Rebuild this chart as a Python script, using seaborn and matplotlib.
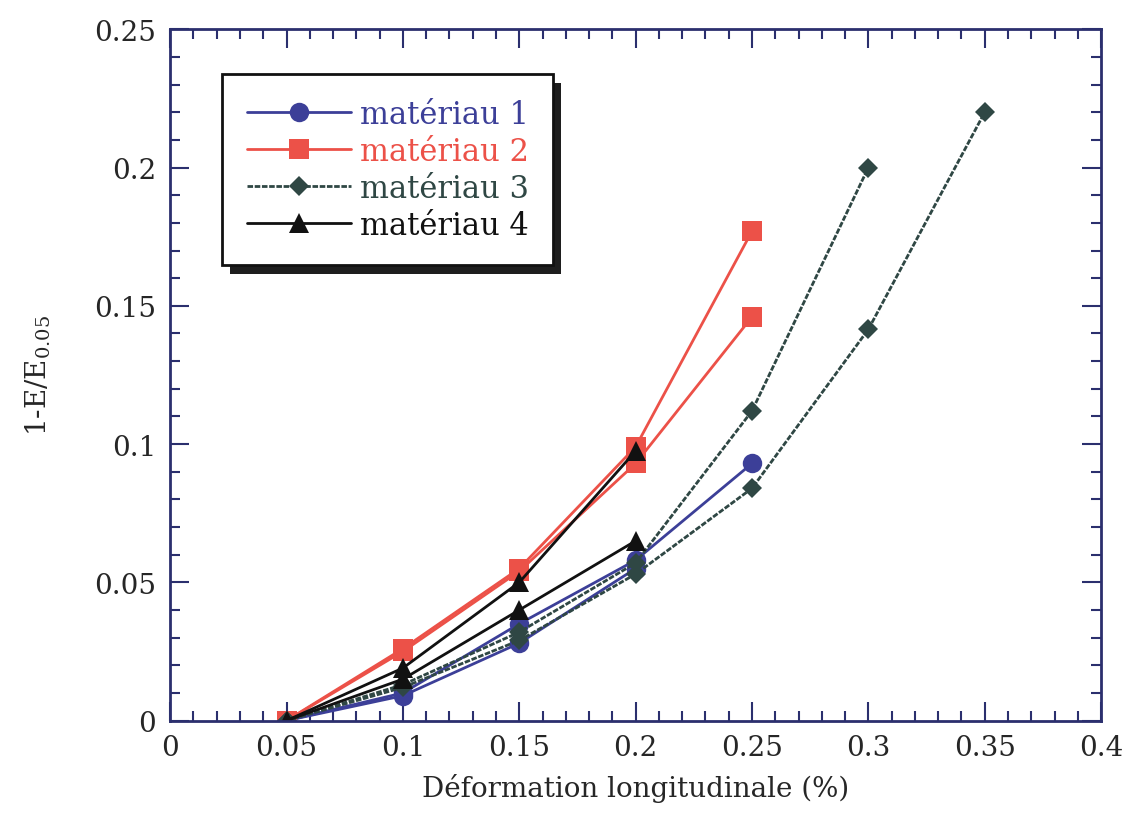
import matplotlib
matplotlib.use("Agg")
import matplotlib.pyplot as plt
from matplotlib.patches import Rectangle
from matplotlib.ticker import MultipleLocator, FuncFormatter
import seaborn as sns
import pandas as pd

# Données (plusieurs éprouvettes par matériau)
mat1_a_x = [0.05, 0.10, 0.15, 0.20, 0.25]
mat1_a_y = [0.0, 0.010, 0.035, 0.058, 0.093]
mat1_b_x = [0.05, 0.10, 0.15, 0.20]
mat1_b_y = [0.0, 0.009, 0.028, 0.055]

mat2_a_x = [0.05, 0.10, 0.15, 0.20, 0.25]
mat2_a_y = [0.0, 0.026, 0.055, 0.099, 0.177]
mat2_b_x = [0.05, 0.10, 0.15, 0.20, 0.25]
mat2_b_y = [0.0, 0.025, 0.054, 0.093, 0.146]

mat3_a_x = [0.05, 0.10, 0.15, 0.20, 0.25, 0.30]
mat3_a_y = [0.0, 0.013, 0.032, 0.057, 0.112, 0.200]
mat3_b_x = [0.05, 0.10, 0.15, 0.20, 0.25, 0.30, 0.35]
mat3_b_y = [0.0, 0.012, 0.029, 0.053, 0.084, 0.1415, 0.220]

mat4_a_x = [0.05, 0.10, 0.15, 0.20]
mat4_a_y = [0.0, 0.019, 0.050, 0.0975]
mat4_b_x = [0.05, 0.10, 0.15, 0.20]
mat4_b_y = [0.0, 0.015, 0.040, 0.065]

noms = ['matériau 1', 'matériau 2', 'matériau 3', 'matériau 4']
courbes = [
    (noms[0], 'a', mat1_a_x, mat1_a_y), (noms[0], 'b', mat1_b_x, mat1_b_y),
    (noms[1], 'a', mat2_a_x, mat2_a_y), (noms[1], 'b', mat2_b_x, mat2_b_y),
    (noms[2], 'a', mat3_a_x, mat3_a_y), (noms[2], 'b', mat3_b_x, mat3_b_y),
    (noms[3], 'a', mat4_a_x, mat4_a_y), (noms[3], 'b', mat4_b_x, mat4_b_y),
]

lignes = []
for mat, c, xs, ys in courbes:
    for x, y in zip(xs, ys):
        lignes.append({'materiau': mat, 'courbe': mat + c, 'x': x, 'y': y})
df = pd.DataFrame(lignes)

couleurs = {noms[0]: '#3c3f98', noms[1]: '#ec5148', noms[2]: '#2f4744', noms[3]: '#111111'}
marqueurs = {noms[0]: 'o', noms[1]: 's', noms[2]: 'D', noms[3]: '^'}
tirets = {noms[0]: '', noms[1]: '', noms[2]: (2.0, 0.6), noms[3]: ''}
couleur_cadre = '#2b2f6e'

sns.set_style('white')
plt.rcParams['font.family'] = ['DejaVu Serif']
plt.rcParams['mathtext.fontset'] = 'dejavuserif'

fig = plt.figure(figsize=(11.27, 8.2), dpi=100)
ax = fig.add_axes([0.151, 0.120, 0.826, 0.843])

sns.lineplot(data=df, x='x', y='y', hue='materiau', style='materiau',
             units='courbe', estimator=None, sort=False,
             palette=couleurs, markers=marqueurs, dashes=tirets,
             linewidth=2.0, markersize=14, markeredgewidth=0, ax=ax)

# diamants un peu plus petits
for ln in ax.get_lines():
    if ln.get_marker() == 'D':
        ln.set_markersize(10)

ax.set_xlim(0, 0.4)
ax.set_ylim(0, 0.25)
fmt = FuncFormatter(lambda v, p: f'{round(v, 3):g}')
ax.xaxis.set_major_locator(MultipleLocator(0.05))
ax.xaxis.set_minor_locator(MultipleLocator(0.01))
ax.yaxis.set_major_locator(MultipleLocator(0.05))
ax.yaxis.set_minor_locator(MultipleLocator(0.01))
ax.xaxis.set_major_formatter(fmt)
ax.yaxis.set_major_formatter(fmt)
ax.tick_params(which='both', direction='in', top=True, right=True,
               bottom=True, left=True,
               color=couleur_cadre, width=1.5, labelsize=20, pad=10)
ax.tick_params(which='major', length=14)
ax.tick_params(which='minor', length=7)
for sp in ax.spines.values():
    sp.set_color(couleur_cadre)
    sp.set_linewidth(2)

ax.set_xlabel('Déformation longitudinale (%)', fontsize=20, labelpad=8)
ax.set_ylabel('1-E/E$_{0.05}$', fontsize=20, labelpad=30)

sns.move_legend(ax, 'upper left', bbox_to_anchor=(0.056, 0.935),
                borderaxespad=0, title=None, frameon=True, fontsize=22,
                handlelength=3.4, handletextpad=0.3, labelspacing=0.2,
                borderpad=0.8, fancybox=False, edgecolor='#111111', framealpha=1)
leg = ax.get_legend()
leg.get_frame().set_linewidth(2)
for txt, nom in zip(leg.texts, noms):
    txt.set_color(couleurs[nom])
for h in leg.legend_handles:
    h.set_markeredgewidth(0)
    if h.get_marker() == 'D':
        h.set_markersize(10)

# ombre du cadre de légende
fig.canvas.draw()
bb = leg.get_window_extent().transformed(fig.transFigure.inverted())
dx, dy = 8 / 1127, 9 / 820
ombre = Rectangle((bb.x0 + dx, bb.y0 - dy), bb.width, bb.height,
                  transform=fig.transFigure, facecolor='#1e1e1e',
                  edgecolor='none', zorder=4)
ax.add_artist(ombre)
ombre.set_clip_on(False)

fig.savefig('out.png', dpi=100)
